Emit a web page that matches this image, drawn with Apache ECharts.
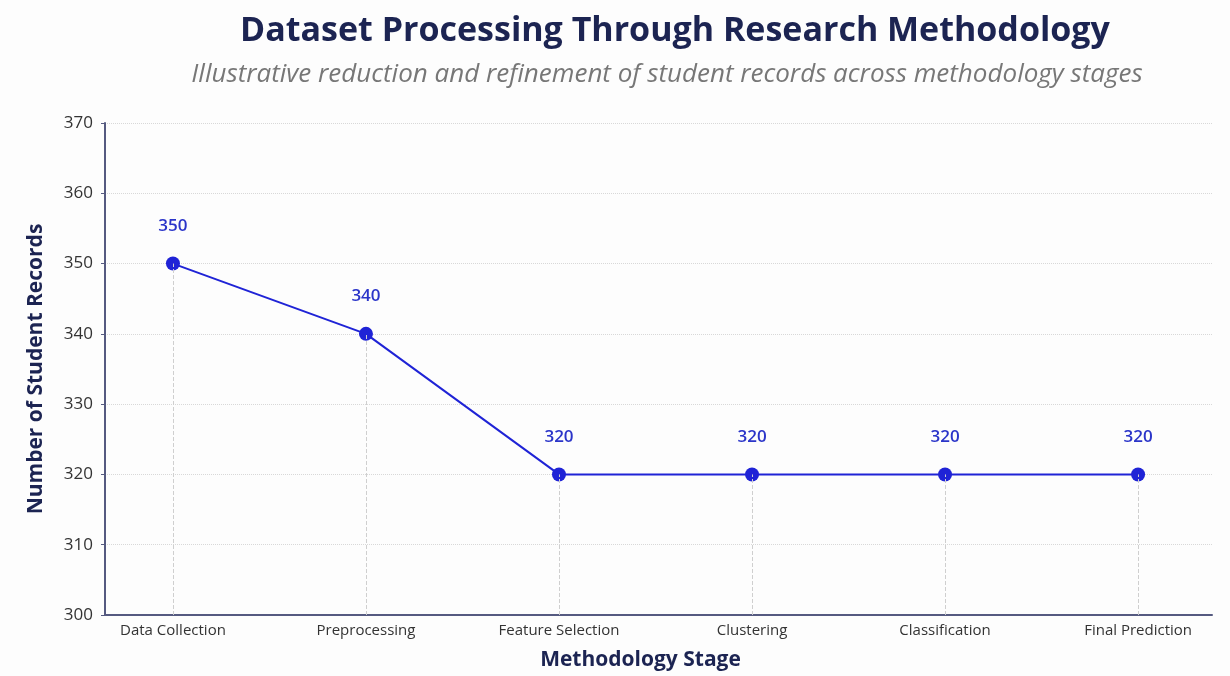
<!DOCTYPE html>
<html>
<head>
<meta charset="utf-8">
<script src="https://cdn.jsdelivr.net/npm/echarts@6/dist/echarts.min.js"></script>
<style>
  html, body { margin: 0; padding: 0; background: #fdfdfd; }
  #chart { width: 1230px; height: 676px; }
</style>
</head>
<body>
<div id="chart"></div>
<script>
// Methodology stages and the number of student records at each stage
const stages = ['Data Collection', 'Preprocessing', 'Feature Selection', 'Clustering', 'Classification', 'Final Prediction'];
const records = [350, 340, 320, 320, 320, 320];
const yTicks = { min: 300, max: 370, step: 10 };

const NAVY = '#1c2452';
const BLUE = '#1f23d6';
const FONT = '"Open Sans", "Noto Sans", sans-serif';

const positions = stages.map((_, i) => i);
const points = records.map((v, i) => [i, v]);

// dotted drop lines from each point down to the axis baseline
const dropLines = records.map((v, i) => [
  { coord: [i, yTicks.min] },
  { coord: [i, v] }
]);

const chart = echarts.init(document.getElementById('chart'));
chart.setOption({
  backgroundColor: '#fdfdfd',
  title: [
    {
      text: 'Dataset Processing Through Research Methodology',
      left: 670, top: 9, textAlign: 'center',
      textStyle: { fontFamily: FONT, fontSize: 34, fontWeight: 'bold', color: NAVY }
    },
    {
      text: 'Illustrative reduction and refinement of student records across methodology stages',
      left: 662, top: 57, textAlign: 'center',
      textStyle: { fontFamily: FONT, fontSize: 26, fontStyle: 'italic', fontWeight: 'normal', color: '#777' }
    }
  ],
  grid: { left: 105, right: 18, top: 123, bottom: 59 },
  xAxis: {
    type: 'value',
    min: -0.352,
    max: 5.383,
    name: 'Methodology Stage',
    nameLocation: 'middle',
    nameGap: 35,
    nameTextStyle: { fontFamily: FONT, fontSize: 21, fontWeight: 'bold', color: NAVY, padding: [0, 36, 0, 0] },
    axisLine: { show: true, onZero: false, lineStyle: { color: '#555a80', width: 2 } },
    axisTick: { show: false },
    splitLine: { show: false },
    axisLabel: {
      customValues: positions,
      formatter: v => stages[Math.round(v)] || '',
      fontFamily: FONT, fontSize: 15, color: '#333', margin: 8
    }
  },
  yAxis: {
    type: 'value',
    min: yTicks.min,
    max: yTicks.max,
    interval: yTicks.step,
    name: 'Number of Student Records',
    nameLocation: 'middle',
    nameGap: 58,
    nameTextStyle: { fontFamily: FONT, fontSize: 21, fontWeight: 'bold', color: NAVY },
    axisLine: { show: true, onZero: false, lineStyle: { color: '#555a80', width: 2 } },
    axisTick: { show: true, length: 4, lineStyle: { color: '#555a80' } },
    axisLabel: { fontFamily: FONT, fontSize: 17, color: '#333', margin: 12 },
    splitLine: { show: true, lineStyle: { color: '#d8d8d8', type: 'dotted', width: 1 } }
  },
  series: [{
    type: 'line',
    data: points,
    symbol: 'circle',
    symbolSize: 14,
    lineStyle: { color: BLUE, width: 2 },
    itemStyle: { color: BLUE },
    label: {
      show: true, position: 'top', distance: 22,
      formatter: p => p.value[1],
      fontFamily: FONT, fontSize: 17, fontWeight: 600, color: '#2b35c9'
    },
    markLine: {
      silent: true,
      symbol: 'none',
      label: { show: false },
      lineStyle: { color: '#cfcfcf', type: 'dashed', width: 1 },
      data: dropLines
    },
    z: 3
  }]
});
</script>
</body>
</html>
